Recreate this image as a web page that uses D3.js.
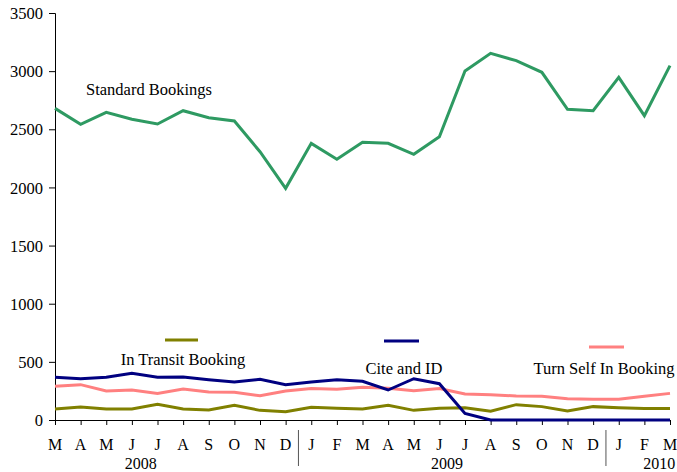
<!DOCTYPE html>
<html><head><meta charset="utf-8">
<script src="https://cdn.jsdelivr.net/npm/d3@7/dist/d3.min.js"></script>
<style>body{margin:0;background:#fff}svg text{font-family:"Liberation Serif","Times New Roman",serif;font-size:16px;fill:#000}</style>
</head><body><svg id="c" width="677" height="472"></svg>
<script>
const months = ["M","A","M","J","J","A","S","O","N","D","J","F","M","A","M","J","J","A","S","O","N","D","J","F","M"];
const years = [{label:"2008",idx:3.35},{label:"2009",idx:15.3},{label:"2010",idx:23.58}];
const separators = [9.5, 21.5];
const standardBookings = [2680,2543,2646,2586,2545,2660,2600,2571,2307,1992,2379,2242,2388,2379,2285,2436,3001,3153,3090,2990,2672,2660,2947,2617,3047];
const citeAndId = [367,355,367,401,367,370,347,327,350,304,327,347,333,258,355,312,57,0,0,0,0,0,0,0,0];
const turnSelfIn = [290,304,249,258,229,267,241,238,209,249,270,264,281,272,252,270,224,218,206,204,183,178,178,204,229];
const inTransit = [95,112,95,95,135,95,86,126,83,72,109,100,95,126,83,100,106,75,132,115,77,115,106,98,98];
const yTicks = [0,500,1000,1500,2000,2500,3000,3500];

const svg = d3.select("#c");
const x = d3.scaleLinear().domain([0, months.length-1]).range([55, 670]);
const y = d3.scaleLinear().domain([0, 3500]).range([420, 13]);

// y axis
const ya = svg.append("g").attr("transform","translate(55,0)")
  .call(d3.axisLeft(y).tickValues(yTicks).tickSize(6).tickPadding(6).tickFormat(d3.format("d")));
ya.attr("font-family",null).attr("font-size",null);
ya.select(".domain").attr("stroke","#000");
ya.selectAll("line").attr("stroke","#000");
ya.selectAll("text").attr("dy","0.34em").style("font-size","16.5px");

// x axis
const xa = svg.append("g").attr("transform","translate(0,420)")
  .call(d3.axisBottom(x).tickValues(d3.range(months.length)).tickSize(5).tickSizeOuter(0).tickFormat(""));
xa.select(".domain").attr("stroke","#000").attr("d","M55.5,0.5H670.5");
xa.selectAll("line").attr("stroke","#000");

svg.append("g").selectAll("text").data(months).join("text")
  .attr("x",(d,i)=>x(i)).attr("y",444).attr("dy","0.35em").attr("text-anchor","middle").text(d=>d);
svg.append("g").selectAll("text").data(years).join("text")
  .attr("x",d=>x(d.idx)).attr("y",463).attr("dy","0.35em").attr("text-anchor","middle").text(d=>d.label);
svg.append("g").selectAll("line").data(separators).join("line")
  .attr("x1",d=>x(d)).attr("x2",d=>x(d)).attr("y1",430).attr("y2",466)
  .attr("stroke","#555").attr("stroke-width",1);

const line = d3.line().x((d,i)=>x(i)).y(d=>y(d));
const series = [
  {data:inTransit,color:"#808000"},
  {data:turnSelfIn,color:"#ff8080"},
  {data:citeAndId,color:"#000080"},
  {data:standardBookings,color:"#2e9a62"}
];
svg.append("g").selectAll("path").data(series).join("path")
  .attr("d",d=>line(d.data)).attr("fill","none").attr("stroke",d=>d.color)
  .attr("stroke-width",3).attr("stroke-linejoin","miter");

// legends / labels
const legends = [
  {x1:165,x2:198,ly:340,tx:183,ty:359,text:"In Transit Booking",color:"#808000"},
  {x1:384,x2:419,ly:341,tx:404,ty:368,text:"Cite and ID",color:"#000080"},
  {x1:589,x2:624,ly:347,tx:604,ty:368,text:"Turn Self In Booking",color:"#ff8080"}
];
const lg = svg.append("g");
lg.selectAll("line").data(legends).join("line")
  .attr("x1",d=>d.x1).attr("x2",d=>d.x2).attr("y1",d=>d.ly).attr("y2",d=>d.ly)
  .attr("stroke",d=>d.color).attr("stroke-width",3);
lg.selectAll("text").data(legends).join("text")
  .attr("x",d=>d.tx).attr("y",d=>d.ty).attr("dy","0.35em").attr("text-anchor","middle").style("font-size","16.5px").text(d=>d.text);
svg.append("text").attr("x",86).attr("y",89).attr("dy","0.35em").style("font-size","16.5px").text("Standard Bookings");
</script></body></html>
